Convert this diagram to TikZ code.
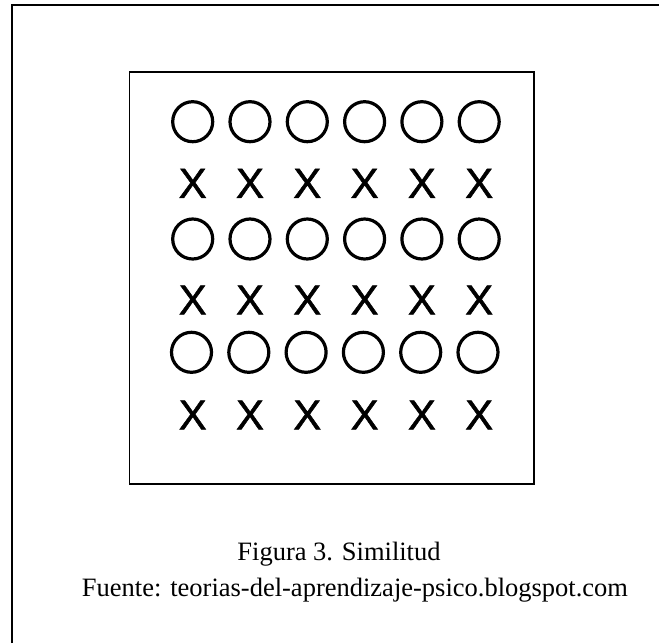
\documentclass[tikz,border=0pt]{standalone}
\usepackage{fontspec}
\setmainfont{Liberation Serif}
\newfontfamily\crossfont[FakeBold=1.2]{Liberation Sans}

\begin{document}
\begin{tikzpicture}
	[x=1pt,y=-1pt,node distance=57.3pt,
		ring node/.style={circle,draw,line width=3.2pt,minimum size=40pt,inner sep=0pt},
		cross node/.style={inner sep=0pt,font=\crossfont\fontsize{42}{42}\selectfont},
		caption node/.style={anchor=base,inner sep=0pt,font=\fontsize{26.5}{30}\selectfont}]

	\useasboundingbox (0,0) rectangle (659,643);

	% frame (top and left edge) and the box around the grid
	\draw[line width=1.8pt] (12,643) -- (12,5) -- (659,5);
	\draw[line width=1.5pt] (129.5,72) rectangle (534,484);

	\node[ring node]  (A1) at (192.7,121.7) {};
	\node[ring node]  [right of=A1]  (A2) {};
	\node[ring node]  [right of=A2]  (A3) {};
	\node[ring node]  [right of=A3]  (A4) {};
	\node[ring node]  [right of=A4]  (A5) {};
	\node[ring node]  [right of=A5]  (A6) {};

	\node[cross node]  (B1) at (192.7,183.3) {X};
	\node[cross node]  [right of=B1]  (B2) {X};
	\node[cross node]  [right of=B2]  (B3) {X};
	\node[cross node]  [right of=B3]  (B4) {X};
	\node[cross node]  [right of=B4]  (B5) {X};
	\node[cross node]  [right of=B5]  (B6) {X};

	\node[ring node]  (C1) at (192.7,239) {};
	\node[ring node]  [right of=C1]  (C2) {};
	\node[ring node]  [right of=C2]  (C3) {};
	\node[ring node]  [right of=C3]  (C4) {};
	\node[ring node]  [right of=C4]  (C5) {};
	\node[ring node]  [right of=C5]  (C6) {};

	\node[cross node]  (D1) at (192.7,300) {X};
	\node[cross node]  [right of=D1]  (D2) {X};
	\node[cross node]  [right of=D2]  (D3) {X};
	\node[cross node]  [right of=D3]  (D4) {X};
	\node[cross node]  [right of=D4]  (D5) {X};
	\node[cross node]  [right of=D5]  (D6) {X};

	\node[ring node]  (E1) at (191.5,352.3) {};
	\node[ring node]  [right of=E1]  (E2) {};
	\node[ring node]  [right of=E2]  (E3) {};
	\node[ring node]  [right of=E3]  (E4) {};
	\node[ring node]  [right of=E4]  (E5) {};
	\node[ring node]  [right of=E5]  (E6) {};

	\node[cross node]  (F1) at (192.7,415) {X};
	\node[cross node]  [right of=F1]  (F2) {X};
	\node[cross node]  [right of=F2]  (F3) {X};
	\node[cross node]  [right of=F3]  (F4) {X};
	\node[cross node]  [right of=F4]  (F5) {X};
	\node[cross node]  [right of=F5]  (F6) {X};

	% caption lines
	\node[caption node]  (fig) at (339,560.5) {Figura 3. Similitud};
	\node[caption node]  (src) at (355,596)   {Fuente: teorias-del-aprendizaje-psico.blogspot.com};

\end{tikzpicture}
\end{document}
